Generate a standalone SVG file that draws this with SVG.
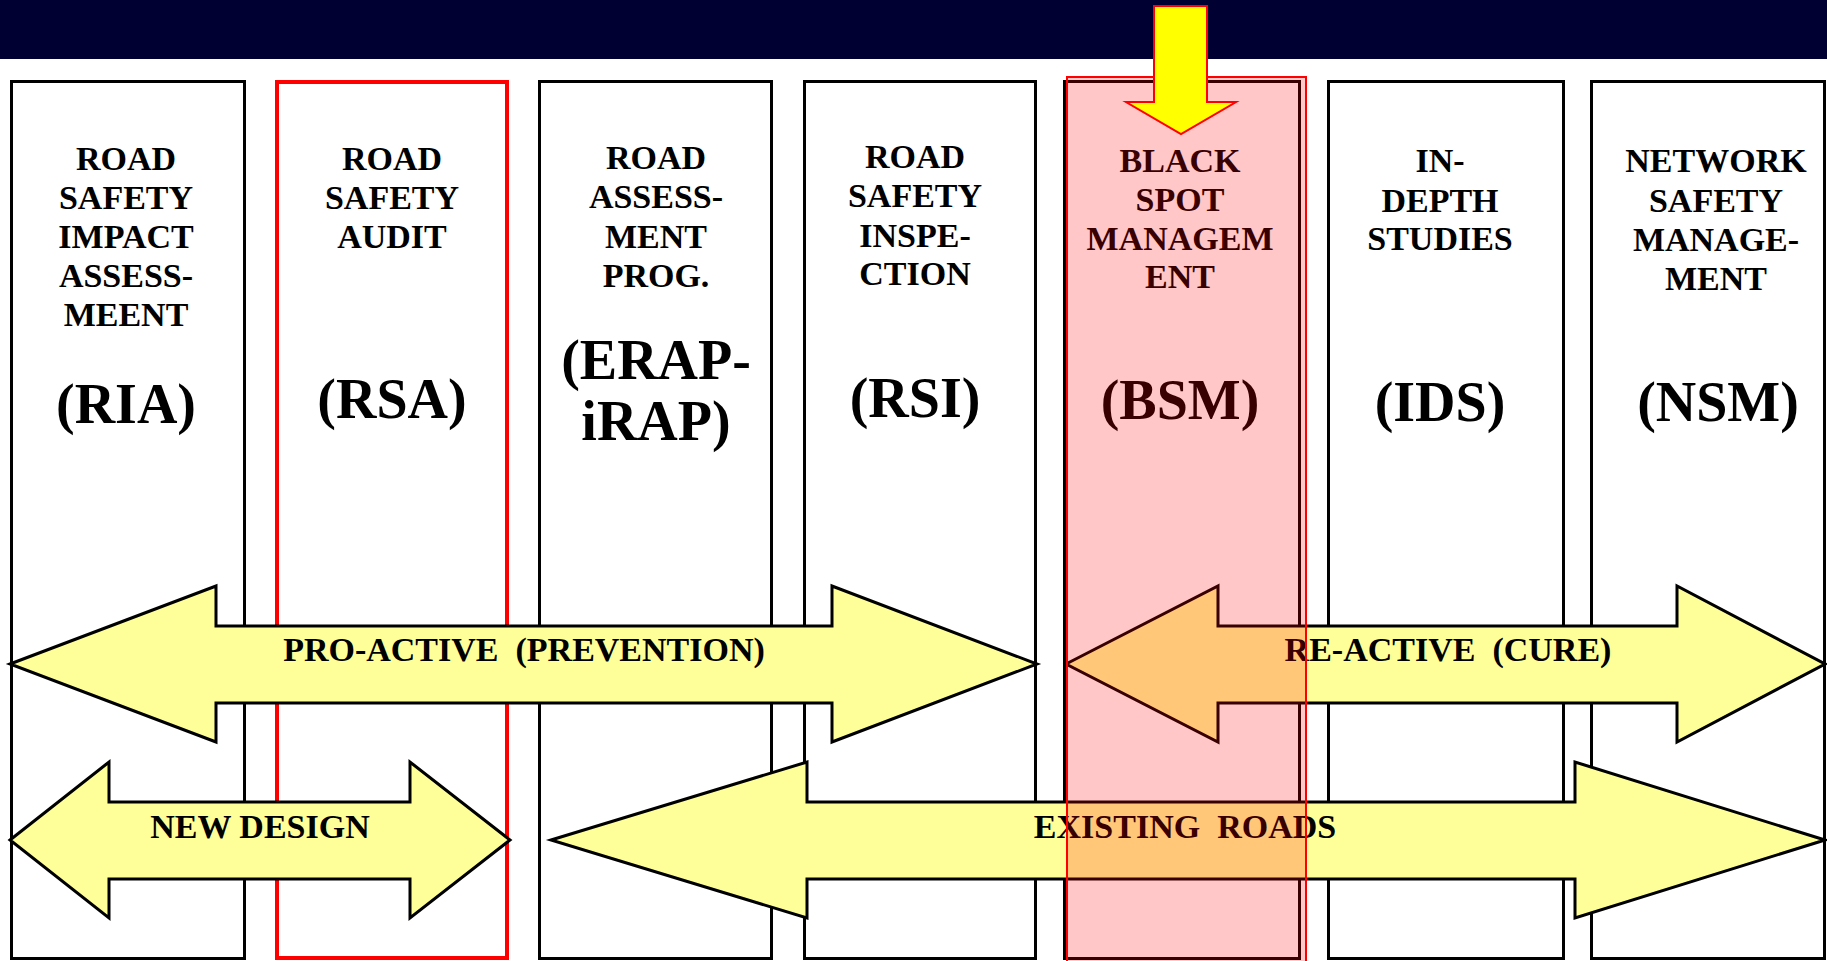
<svg xmlns="http://www.w3.org/2000/svg" width="1827" height="961" viewBox="0 0 1827 961">
<style>
.box{fill:#fff;stroke:#000;stroke-width:3}
.rbox{fill:#fff;stroke:#ff0000;stroke-width:4}
.t{font-family:"Liberation Serif","Times New Roman",serif;font-weight:bold;font-size:34px;fill:#000;text-anchor:middle}
.ab{font-family:"Liberation Serif","Times New Roman",serif;font-weight:bold;font-size:56px;fill:#000;text-anchor:middle}
.arr{fill:#ffff99;stroke:#000;stroke-width:3;stroke-linejoin:miter}
.overlay{fill:#ff0000;fill-opacity:0.22;stroke:#ff0000;stroke-width:2}
.down{fill:#ffff00;stroke:#ff0000;stroke-width:2}
</style>
<rect x="0" y="0" width="1827" height="961" fill="#fff"/>
<rect id="header" x="0" y="0" width="1827" height="59" fill="#000033"/>

<g id="ria">
<rect class="box" x="11.5" y="81.5" width="233" height="877"/>
<text class="t" x="126" y="170">ROAD</text>
<text class="t" x="126" y="209">SAFETY</text>
<text class="t" x="126" y="248">IMPACT</text>
<text class="t" x="126" y="287">ASSESS-</text>
<text class="t" x="126" y="326">MEENT</text>
<text class="ab" x="126" y="423">(RIA)</text>
</g>
<g id="rsa">
<rect class="rbox" x="277" y="82" width="230" height="876"/>
<text class="t" x="392" y="170">ROAD</text>
<text class="t" x="392" y="209">SAFETY</text>
<text class="t" x="392" y="248">AUDIT</text>
<text class="ab" x="392" y="418">(RSA)</text>
</g>
<g id="erap">
<rect class="box" x="539.5" y="81.5" width="232" height="877"/>
<text class="t" x="656" y="169">ROAD</text>
<text class="t" x="656" y="208">ASSESS-</text>
<text class="t" x="656" y="248">MENT</text>
<text class="t" x="656" y="287">PROG.</text>
<text class="ab" x="656" y="379" font-size="53">(ERAP-</text>
<text class="ab" x="656" y="440" font-size="53">iRAP)</text>
</g>
<g id="rsi">
<rect class="box" x="804.5" y="81.5" width="231" height="877"/>
<text class="t" x="915" y="168">ROAD</text>
<text class="t" x="915" y="207">SAFETY</text>
<text class="t" x="915" y="247">INSPE-</text>
<text class="t" x="915" y="285">CTION</text>
<text class="ab" x="915" y="417">(RSI)</text>
</g>
<g id="bsm">
<rect class="box" x="1064.5" y="81.5" width="235" height="877"/>
<text class="t" x="1180" y="172">BLACK</text>
<text class="t" x="1180" y="211">SPOT</text>
<text class="t" x="1180" y="250">MANAGEM</text>
<text class="t" x="1180" y="288">ENT</text>
<text class="ab" x="1180" y="419">(BSM)</text>
</g>
<g id="ids">
<rect class="box" x="1328.5" y="81.5" width="235" height="877"/>
<text class="t" x="1440" y="172">IN-</text>
<text class="t" x="1440" y="212">DEPTH</text>
<text class="t" x="1440" y="250">STUDIES</text>
<text class="ab" x="1440" y="421">(IDS)</text>
</g>
<g id="nsm">
<rect class="box" x="1591.5" y="81.5" width="233" height="877"/>
<text class="t" x="1716" y="172">NETWORK</text>
<text class="t" x="1716" y="212">SAFETY</text>
<text class="t" x="1716" y="251">MANAGE-</text>
<text class="t" x="1716" y="290">MENT</text>
<text class="ab" x="1718" y="421">(NSM)</text>
</g>

<g id="connectors">
<g id="proactive">
<polygon class="arr" points="10,664 216,586 216,626 832,626 832,586 1037,664 832,742 832,703 216,703 216,742"/>
<text class="t" x="524" y="661" xml:space="preserve">PRO-ACTIVE  (PREVENTION)</text>
</g>
<g id="reactive">
<polygon class="arr" points="1066,664 1218,586 1218,626 1677,626 1677,586 1825,664 1677,742 1677,703 1218,703 1218,742"/>
<text class="t" x="1448" y="661" xml:space="preserve">RE-ACTIVE  (CURE)</text>
</g>
<g id="newdesign">
<polygon class="arr" points="10,840 109,762 109,802 410,802 410,762 510,840 410,918 410,879 109,879 109,918"/>
<text class="t" x="260" y="838">NEW DESIGN</text>
</g>
<g id="existing">
<polygon class="arr" points="551,840 807,762 807,802 1575,802 1575,762 1825,840 1575,918 1575,879 807,879 807,918"/>
<text class="t" x="1185" y="838" xml:space="preserve">EXISTING  ROADS</text>
</g>
</g>

<g id="highlight">
<rect class="overlay" x="1067" y="77" width="239" height="890"/>
<polygon class="down" points="1154,6 1207,6 1207,102 1236,102 1181,134 1126,102 1154,102"/>
</g>
</svg>
